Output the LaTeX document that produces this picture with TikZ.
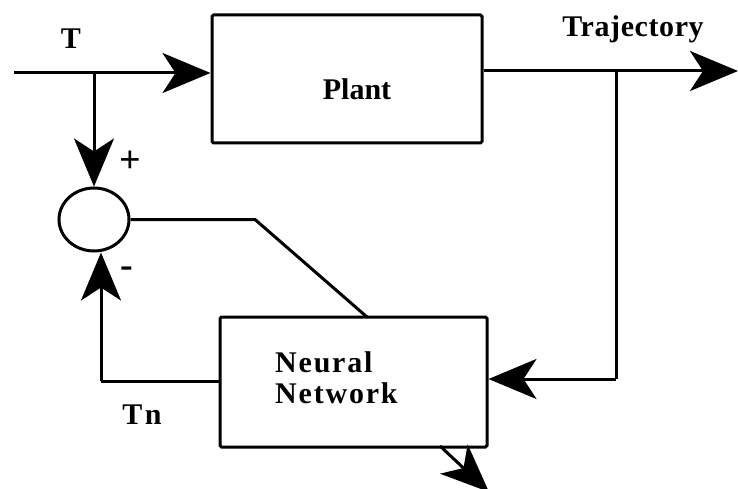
\documentclass[tikz,border=0pt]{standalone}
\usepackage{fontspec}
\setmainfont{Liberation Serif}
\usetikzlibrary{arrows.meta,shapes.geometric}
\begin{document}
\begin{tikzpicture}[x=1pt,y=-1pt,
  ln/.style={line width=3pt},
  arr/.style={ln,-{Stealth[length=48pt,width=40pt,inset=13pt]}},
  blk/.style={draw,line width=3pt,rectangle,rounded corners=1.5pt,inner sep=0pt},
  lbl/.style={inner sep=0pt,font=\fontsize{30}{34}\selectfont\bfseries}]
\useasboundingbox (0,0) rectangle (738,489);
% blocks
\node[blk,minimum width=270pt,minimum height=128pt] (plant) at (347,79) {};
\node[blk,minimum width=267pt,minimum height=130pt] (nn) at (353.5,382) {};
\node[draw,line width=3pt,ellipse,minimum width=70pt,minimum height=63pt,inner sep=0pt] (sum) at (94,219.5) {};
% labels
\node[lbl] (plantlbl) at (357,89) {Plant};
\node[lbl,anchor=base west] (nnl1) at (275,372) {\addfontfeature{LetterSpace=6}Neural};
\node[lbl,anchor=base west] (nnl2) at (275,403) {\addfontfeature{LetterSpace=6}Network};
\node[lbl] (tl) at (71,39) {T};
\node[lbl] (trl) at (633,29) {\addfontfeature{LetterSpace=2}Trajectory};
\node[lbl] (tnl) at (142,415) {\addfontfeature{LetterSpace=8}Tn};
\node[lbl,font=\fontsize{38}{40}\selectfont\bfseries] (plus) at (130,162) {+};
\node[lbl,font=\fontsize{38}{40}\selectfont\bfseries] (minus) at (127,272) {-};
% coordinates
\coordinate (in) at (14,73);
\coordinate (j1) at (94,73);
\coordinate (outend) at (738,71);
\coordinate (j2) at (616,71);
\coordinate (j3) at (616,379);
\coordinate (fb) at (101,381);
\coordinate (k1) at (255,219.5);
\coordinate (k2) at (367,317);
\coordinate (bs) at (440,446);
\coordinate (be) at (489,492);
% connectors
\draw[arr] (in) -- (in -| plant.west);
\draw[arr] (j1) -- (sum.north);
\draw[arr] (plant.east |- outend) -- (outend);
\draw[ln] (j2) -- (j3);
\draw[arr] (j3) -- (j3 -| nn.east);
\draw[ln] (nn.west |- fb) -- (fb);
\draw[arr] (fb) -- (fb |- sum.south);
\draw[ln] (sum.east) -- (k1) -- (k2);
\draw[arr] (bs) -- (be);
\end{tikzpicture}
\end{document}
